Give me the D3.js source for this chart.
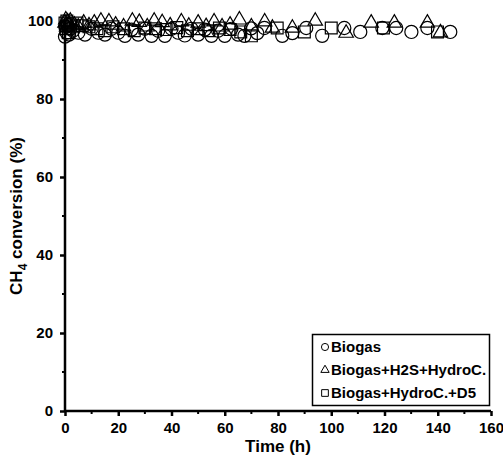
<!DOCTYPE html>
<html>
<head>
<meta charset="utf-8">
<script src="https://cdn.jsdelivr.net/npm/d3@7"></script>
<style>
  body { margin: 0; background: #fff; }
  svg { display: block; font-family: Arial, "Liberation Sans", sans-serif; }
</style>
</head>
<body>
<svg id="chart" width="503" height="459"></svg>
<script>
// Biogas (circles)
const biogasTime = [0, 0.3, 0.6, 1, 1.5, 2, 3, 5, 7.5, 10, 12.5, 15, 17.5, 20, 22.5, 25, 27.5, 30, 32.5, 35, 37.5, 40, 42.5, 45, 47.5, 50, 52.5, 55, 57.5, 60, 62.5, 65, 67.4, 69.9, 72.2, 74.9, 81.6, 85.4, 90.6, 96.6, 104.9, 110.9, 119.2, 124.4, 130.1, 136.1, 144.7];
const biogasConv = [96, 98.5, 97, 99, 96.5, 98, 97.5, 97, 96.5, 98, 97, 96.5, 98, 97, 96.2, 97.8, 96.5, 98, 96.2, 97.5, 96.2, 98, 97, 96.3, 98, 96.5, 97.8, 96.2, 97.5, 96.2, 98, 96.5, 96.2, 98.1, 96.9, 98.2, 96.2, 96.9, 98.2, 96.2, 98.2, 97.2, 98.2, 98.2, 97.2, 98.2, 97.2];

// Biogas + H2S + hydrocarbons (triangles)
const h2sTime = [0, 0.3, 0.6, 1, 1.5, 2, 3.5, 5, 7, 9, 11, 13.5, 16.5, 19, 22, 25.3, 27.9, 30.9, 33.5, 36.5, 39.5, 43.7, 46.5, 50, 53, 56, 59, 62, 65.5, 70, 75, 77.9, 85.4, 94, 105.6, 115, 123.7, 136.1, 141];
const h2sConv = [99.5, 100.3, 98.5, 99.8, 99, 100, 99, 98.5, 99.5, 98.8, 99.5, 100, 99.8, 99, 98.5, 100, 99.7, 98.5, 100, 99.6, 98.8, 99.8, 98.7, 99.5, 98.6, 99.8, 98.5, 99, 100.3, 98.5, 99.8, 98.2, 98.2, 100, 96.9, 99.5, 99.5, 99.5, 97];

// Biogas + hydrocarbons + D5 (squares)
const d5Time = [0, 0.3, 0.7, 1.2, 2, 3, 4.5, 6.5, 9, 12, 15, 18, 22, 26, 30, 34, 38, 42, 46, 50, 54, 58, 62, 66, 70, 79.7, 89.9, 100, 119.6, 139.9];
const d5Conv = [99.5, 98, 100, 97, 99, 98.5, 99.5, 98.8, 98.5, 98, 97.5, 98.5, 98, 97.5, 98.2, 98, 97.8, 98.3, 97.5, 98, 97.5, 98.2, 97.8, 97.2, 96.2, 98.2, 97.2, 98.2, 98.2, 97.2];

const xTicks = [0, 20, 40, 60, 80, 100, 120, 140, 160];
const yTicks = [0, 20, 40, 60, 80, 100];
const legendLabels = ["Biogas", "Biogas+H2S+HydroC.", "Biogas+HydroC.+D5"];

const svg = d3.select("#chart");
const margin = { left: 65, right: 12, top: 21, bottom: 48 };
const W = 503, H = 459;

const x = d3.scaleLinear().domain([0, 160]).range([margin.left, W - margin.right]);
const y = d3.scaleLinear().domain([0, 100]).range([H - margin.bottom, margin.top]);

const series = [
  { t: biogasTime, v: biogasConv, sym: d3.symbolCircle, size: 135 },
  { t: h2sTime, v: h2sConv, sym: d3.symbolTriangle, size: 90 },
  { t: d5Time, v: d5Conv, sym: d3.symbolSquare, size: 140 }
];

// markers
const marks = svg.append("g");
series.forEach(s => {
  const gen = d3.symbol().type(s.sym).size(s.size);
  marks.selectAll(null)
    .data(s.t.map((t, i) => [t, s.v[i]]))
    .join("path")
    .attr("d", gen)
    .attr("transform", d => `translate(${x(d[0])},${y(d[1])})`)
    .attr("fill", "none")
    .attr("stroke", "#000")
    .attr("stroke-width", 1.2);
});

// axes
const axisFont = "bold 15px Arial, 'Liberation Sans', sans-serif";

const xAxis = svg.append("g")
  .attr("transform", `translate(0,${y(0)})`)
  .call(d3.axisBottom(x).tickValues(xTicks).tickSize(5).tickPadding(6));
xAxis.append("g").selectAll("line")
  .data(d3.range(10, 160, 20)).join("line")
  .attr("x1", d => x(d)).attr("x2", d => x(d))
  .attr("y1", 0).attr("y2", 3)
  .attr("stroke", "#000").attr("stroke-width", 2);

const yAxis = svg.append("g")
  .attr("transform", `translate(${x(0)},0)`)
  .call(d3.axisLeft(y).tickValues(yTicks).tickSize(5).tickPadding(7));
yAxis.append("g").selectAll("line")
  .data(d3.range(10, 100, 20)).join("line")
  .attr("y1", d => y(d)).attr("y2", d => y(d))
  .attr("x1", 0).attr("x2", -3)
  .attr("stroke", "#000").attr("stroke-width", 2);

[xAxis, yAxis].forEach(a => {
  a.select(".domain").attr("stroke-width", 2.5).attr("d", null);
  a.selectAll(".tick line").attr("stroke-width", 2.5);
  a.selectAll(".tick text").style("font", axisFont).attr("fill", "#000");
});
xAxis.select(".domain").attr("d", `M${x(0)},0H${x(160)}`);
yAxis.select(".domain").attr("d", `M0,${y(0)}V${y(100)}`);

// axis titles
svg.append("text")
  .attr("x", (x(0) + x(160)) / 2).attr("y", 452)
  .attr("text-anchor", "middle")
  .style("font", "bold 17px Arial, 'Liberation Sans', sans-serif")
  .text("Time (h)");

const yt = svg.append("text")
  .attr("transform", `translate(22,${(y(0) + y(100)) / 2}) rotate(-90)`)
  .attr("text-anchor", "middle")
  .style("font", "bold 17px Arial, 'Liberation Sans', sans-serif");
yt.append("tspan").text("CH");
yt.append("tspan").attr("dy", 5).style("font-size", "12px").text("4");
yt.append("tspan").attr("dy", -5).text(" conversion (%)");

// legend
const lg = svg.append("g");
lg.append("rect")
  .attr("x", 312.5).attr("y", 334.5).attr("width", 177).attr("height", 71)
  .attr("fill", "#fff").attr("stroke", "#000").attr("stroke-width", 1.5);
const legSyms = [d3.symbolCircle, d3.symbolTriangle, d3.symbolSquare];
const legSizes = [40, 30, 45];
legendLabels.forEach((lab, i) => {
  const cy = 347 + i * 23;
  lg.append("path")
    .attr("d", d3.symbol().type(legSyms[i]).size(legSizes[i]))
    .attr("transform", `translate(325,${cy})`)
    .attr("fill", "none").attr("stroke", "#000").attr("stroke-width", 1);
  lg.append("text")
    .attr("x", 331).attr("y", cy + 5)
    .style("font", "bold 15px Arial, 'Liberation Sans', sans-serif")
    .text(lab);
});
</script>
</body>
</html>
